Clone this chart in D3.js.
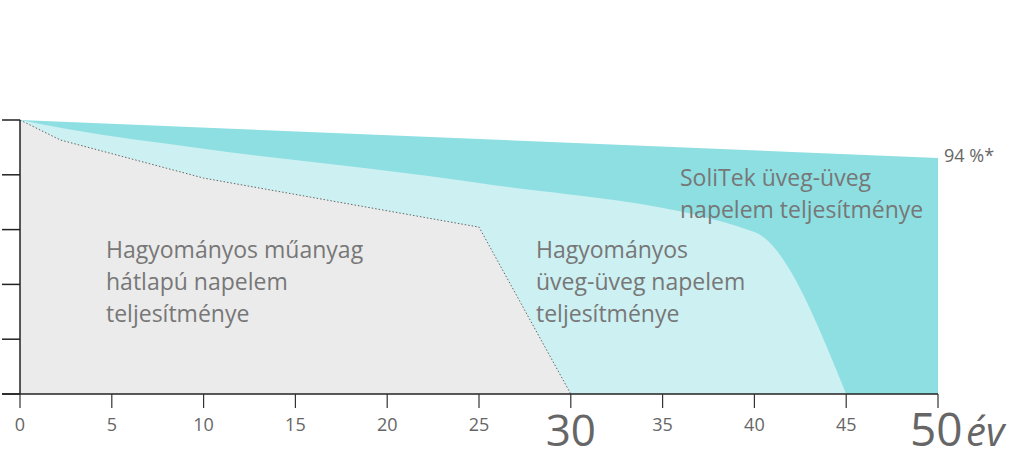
<!DOCTYPE html><html><head><meta charset="utf-8"><script src="https://cdn.jsdelivr.net/npm/d3@7"></script>
<style>body{margin:0;background:#fff}text{font-family:"Open Sans",sans-serif}</style></head><body><svg id="c" width="1024" height="468"></svg>
<script>
const soliYears=[0,50], soliVals=[100,86.1];
const glassYears=[0,2.5,10,25,40,45], glassVals=[100,96.8,89.5,77,59.1,0];
const plasticYears=[0,2.2,10,25,30], plasticVals=[100,92.7,78.8,60.9,0];
const smallTicks=[0,5,10,15,20,25,35,40,45];
const yTicks=[0,20,40,60,80,100];
const svg=d3.select("#c");
const x=d3.scaleLinear().domain([0,50]).range([20,938]);
const y=d3.scaleLinear().domain([0,100]).range([394,120]);
const pts=(xs,vs)=>xs.map((d,i)=>[d,vs[i]]);
const area=d3.area().x(d=>x(d[0])).y0(y(0)).y1(d=>y(d[1]));
svg.append("path").attr("d",area(pts(soliYears,soliVals))).attr("fill","#8ddfe2");
svg.append("path").attr("d",area.curve(d3.curveMonotoneX)(pts(glassYears,glassVals))).attr("fill","#cdf0f2");
area.curve(d3.curveLinear);
svg.append("path").attr("d",area(pts(plasticYears,plasticVals))).attr("fill","#ebebeb");
svg.append("path").attr("d",d3.line().x(d=>x(d[0])).y(d=>y(d[1]))(pts(plasticYears,plasticVals))).attr("fill","none").attr("stroke","#666").attr("stroke-width",1).attr("stroke-dasharray","1.5,2");
svg.append("line").attr("x1",x(0)).attr("x2",x(0)).attr("y1",y(100)).attr("y2",y(0)).attr("stroke","#222").attr("stroke-width",1.5);
svg.selectAll(".yt").data(yTicks).enter().append("line").attr("x1",2).attr("x2",x(0)).attr("y1",d=>y(d)).attr("y2",d=>y(d)).attr("stroke","#222").attr("stroke-width",1.5);
svg.append("line").attr("x1",2).attr("x2",x(50)).attr("y1",y(0)).attr("y2",y(0)).attr("stroke","#222").attr("stroke-width",1.5);
svg.selectAll(".xt").data(d3.range(0,51,5)).enter().append("line").attr("x1",d=>x(d)).attr("x2",d=>x(d)).attr("y1",y(0)).attr("y2",y(0)+14).attr("stroke","#333").attr("stroke-width",1.2);
svg.selectAll(".xl").data(smallTicks).enter().append("text").attr("x",d=>x(d)).attr("y",431).attr("text-anchor","middle").attr("font-size",18).attr("fill","#666").text(d=>d);
svg.append("text").attr("x",x(30)).attr("y",446).attr("text-anchor","middle").attr("font-size",44).attr("fill","#666").text("30");
svg.append("text").attr("x",910).attr("y",446).attr("font-size",46).attr("fill","#666").text("50");
svg.append("text").attr("x",966).attr("y",446).attr("font-size",40).attr("font-style","italic").attr("fill","#666").text("év");
svg.append("text").attr("x",944).attr("y",162).attr("font-size",18).attr("fill","#666").text("94 %*");
const lbl=(lines,x0,y0)=>lines.forEach((t,i)=>svg.append("text").attr("x",x0).attr("y",y0+i*32).attr("font-size",23).attr("fill","#777").text(t));
lbl(["Hagyományos műanyag","hátlapú napelem","teljesítménye"],106,258);
lbl(["Hagyományos","üveg-üveg napelem","teljesítménye"],536,258);
lbl(["SoliTek üveg-üveg","napelem teljesítménye"],680,186);
</script></body></html>
